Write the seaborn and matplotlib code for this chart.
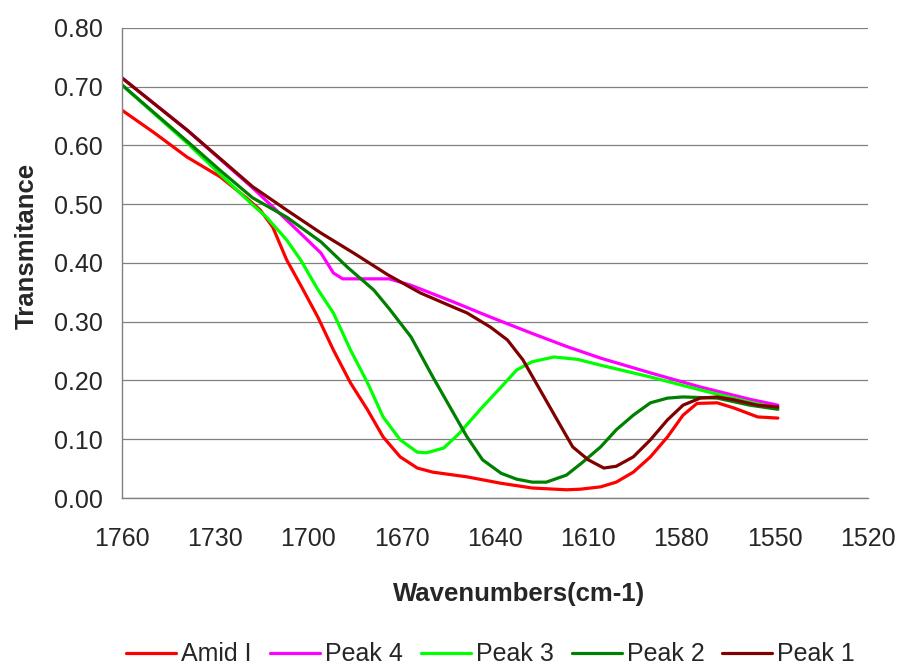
import matplotlib
matplotlib.use("Agg")
import matplotlib.pyplot as plt
import seaborn as sns
import pandas as pd

# ---- data ----
amid_x = [1760, 1750, 1739, 1728.5, 1720, 1715.5, 1711.5, 1707, 1702.5, 1697, 1692, 1686.5, 1681, 1676,
          1670.5, 1665, 1660, 1649, 1638, 1628, 1617, 1612.5, 1606, 1601, 1595.5, 1590, 1584.5, 1579.5,
          1575, 1568.5, 1563, 1555.5, 1549]
amid_y = [0.660, 0.623, 0.580, 0.547, 0.511, 0.490, 0.461, 0.405, 0.362, 0.308, 0.252, 0.196, 0.150, 0.104,
          0.070, 0.051, 0.044, 0.036, 0.025, 0.017, 0.014, 0.015, 0.019, 0.027, 0.044, 0.070, 0.104, 0.141,
          0.161, 0.162, 0.153, 0.138, 0.136]

peak4_x = [1760, 1739, 1718, 1707, 1696, 1692, 1689, 1674, 1667, 1653.5, 1641.5, 1628, 1617, 1606,
           1590, 1574, 1558, 1549]
peak4_y = [0.715, 0.626, 0.528, 0.473, 0.417, 0.383, 0.373, 0.373, 0.362, 0.334, 0.308, 0.280, 0.258, 0.238,
           0.213, 0.189, 0.168, 0.158]

peak3_x = [1760, 1739, 1718, 1713.5, 1707, 1702.5, 1697, 1692, 1686.5, 1681, 1676, 1670.5, 1665, 1662,
           1656.5, 1651.5, 1644, 1638, 1633, 1628, 1621, 1613.5, 1606, 1590, 1574, 1558, 1549]
peak3_y = [0.703, 0.604, 0.499, 0.478, 0.439, 0.405, 0.355, 0.315, 0.252, 0.196, 0.138, 0.099, 0.078, 0.077,
           0.085, 0.110, 0.155, 0.189, 0.218, 0.232, 0.240, 0.236, 0.226, 0.206, 0.184, 0.163, 0.153]

peak2_x = [1760, 1739, 1728.5, 1718, 1707, 1696, 1687.5, 1679, 1674, 1667, 1660, 1654.5, 1649, 1644,
           1638, 1633, 1628, 1623.5, 1617, 1612, 1606, 1601, 1595.5, 1590, 1584.5, 1579.5, 1568.5, 1558, 1549]
peak2_y = [0.703, 0.607, 0.558, 0.511, 0.478, 0.436, 0.393, 0.354, 0.322, 0.274, 0.206, 0.155, 0.104, 0.065,
           0.042, 0.032, 0.027, 0.027, 0.039, 0.060, 0.087, 0.116, 0.141, 0.162, 0.170, 0.172, 0.170, 0.158, 0.151]

peak1_x = [1760, 1739, 1718, 1707, 1696, 1685.5, 1674.5, 1664, 1653.5, 1649, 1641.5, 1636, 1631, 1625.5,
           1620, 1615, 1610, 1605, 1601, 1595.5, 1590, 1584.5, 1579.5, 1574, 1568.5, 1563, 1555.5, 1549]
peak1_y = [0.715, 0.626, 0.530, 0.490, 0.451, 0.417, 0.380, 0.349, 0.325, 0.315, 0.291, 0.269, 0.235, 0.184,
           0.133, 0.087, 0.065, 0.051, 0.054, 0.070, 0.099, 0.133, 0.158, 0.170, 0.172, 0.167, 0.158, 0.155]

series_names = ["Amid I", "Peak 4", "Peak 3", "Peak 2", "Peak 1"]
series_colors = ["#FF0000", "#FF00FF", "#00FF00", "#008000", "#800000"]
x_ticks = [1760, 1730, 1700, 1670, 1640, 1610, 1580, 1550, 1520]
y_ticks = [0.0, 0.1, 0.2, 0.3, 0.4, 0.5, 0.6, 0.7, 0.8]

frames = []
for name, xs, ys in zip(series_names,
                        [amid_x, peak4_x, peak3_x, peak2_x, peak1_x],
                        [amid_y, peak4_y, peak3_y, peak2_y, peak1_y]):
    frames.append(pd.DataFrame({"x": xs, "y": ys, "series": name}))
df = pd.concat(frames, ignore_index=True)

sns.set_style("white")
plt.rcParams["font.family"] = ["Liberation Sans", "DejaVu Sans"]

fig = plt.figure(figsize=(8.99, 6.69), dpi=100)
ax = fig.add_axes([0.1357, 0.2556, 0.8298, 0.7026])

sns.lineplot(data=df, x="x", y="y", hue="series", hue_order=series_names,
             palette=dict(zip(series_names, series_colors)), sort=False,
             estimator=None, linewidth=2.3, ax=ax)

ax.set_xlim(1760, 1520)
ax.set_ylim(0, 0.8)
ax.set_xticks(x_ticks)
ax.set_xticklabels([str(t) for t in x_ticks], fontsize=18)
ax.set_yticks(y_ticks)
ax.set_yticklabels([f"{t:.2f}" for t in y_ticks], fontsize=18)

ax.yaxis.grid(True, color="#808080", linewidth=0.9)
ax.xaxis.grid(False)
ax.set_axisbelow(True)
for s in ["top", "right"]:
    ax.spines[s].set_visible(False)
for s in ["left", "bottom"]:
    ax.spines[s].set_color("#808080")
    ax.spines[s].set_linewidth(1.0)

ax.tick_params(axis="x", direction="out", length=6, width=1, color="#808080", pad=15)
ax.tick_params(axis="y", direction="in", length=6, width=1, color="#808080", pad=14)

ax.set_xlabel("Wavenumbers(cm-1)", fontsize=18.5, fontweight="bold")
ax.set_ylabel("Transmitance", fontsize=18.5, fontweight="bold")
ax.xaxis.label.set_verticalalignment("center")
ax.yaxis.label.set_verticalalignment("center")
ax.xaxis.set_label_coords(0.532, -0.204)
ax.yaxis.set_label_coords(-0.128, 0.536)

handles, labels = ax.get_legend_handles_labels()
ax.legend(handles, labels, loc="center", bbox_to_anchor=(0.546, 0.022), bbox_transform=fig.transFigure,
          ncol=5, frameon=False, fontsize=18, handlelength=2.0, handletextpad=0.2,
          columnspacing=0.72)

fig.savefig("out.png", dpi=100)
